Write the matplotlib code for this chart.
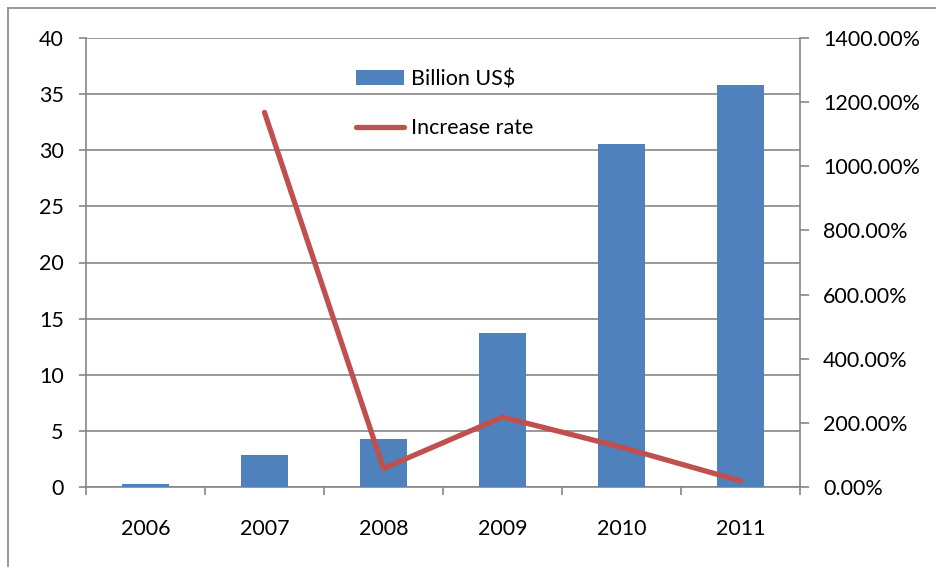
import matplotlib
matplotlib.use("Agg")
import matplotlib.pyplot as plt
from matplotlib.lines import Line2D
from matplotlib.patches import Patch
import numpy as np

years = ["2006", "2007", "2008", "2009", "2010", "2011"]
billion_usd = [0.27, 2.85, 4.28, 13.75, 30.6, 35.85]
rate_years = ["2007", "2008", "2009", "2010", "2011"]
increase_rate = [1168, 58, 218, 124, 19]

FS = 15.5
plt.rcParams['font.family'] = ['Lato', 'DejaVu Sans']
fig = plt.figure(figsize=(9.36, 5.67), dpi=100)
ax = fig.add_axes([86/936, 1-487/567, (800-86)/936, (487-38)/567])

x = np.arange(len(years))
ax.bar(x, billion_usd, width=0.4, color='#4F81BD', zorder=3)
ax.set_xlim(-0.5, len(years)-0.5)
ax.set_ylim(0, 40)
ax.set_yticks(range(0, 41, 5))
ax.grid(axis='y', color='#868686', linewidth=1.2, zorder=0)
ax.set_xticks(x)
ax.set_xticklabels(years)
ax.set_xticks(np.arange(-0.5, len(years), 1), minor=True)
ax.tick_params(axis='x', which='major', length=0, pad=23, labelsize=FS)
ax.tick_params(axis='x', which='minor', length=6, color='#868686', width=1.2)
ax.tick_params(axis='y', length=5, color='#868686', width=1.2, labelsize=FS, pad=11)
for s in ['top', 'right']:
    ax.spines[s].set_visible(False)
for s in ['left', 'bottom']:
    ax.spines[s].set_color('#868686')
    ax.spines[s].set_linewidth(1.2)

ax2 = ax.twinx()
rx = [years.index(y) for y in rate_years]
ax2.plot(rx, increase_rate, color='#C0504D', linewidth=3.8, solid_capstyle='round', zorder=4)
ax2.set_ylim(0, 1400)
ax2.set_yticks(range(0, 1401, 200))
ax2.set_yticklabels([f"{v:.2f}%" for v in range(0, 1401, 200)])
ax2.tick_params(axis='y', length=6.5, color='#868686', width=1.2, labelsize=FS, pad=10)
for s in ['top', 'left', 'bottom']:
    ax2.spines[s].set_visible(False)
ax2.spines['right'].set_color('#868686')
ax2.spines['right'].set_linewidth(1.2)

handles = [Patch(facecolor='#4F81BD', label='Billion US$'),
           Line2D([0], [0], color='#C0504D', linewidth=3.8, solid_capstyle='round', label='Increase rate')]
leg = ax2.legend(handles=handles, loc='upper left', bbox_to_anchor=(0.366, 0.95),
                 frameon=False, fontsize=FS, labelspacing=1.35, handlelength=2.25,
                 handletextpad=0.3, borderaxespad=0)

# outer frame
fig.add_artist(Line2D([8/936, 8/936], [0, 1-8/567], transform=fig.transFigure, color='#868686', linewidth=1.2))
fig.add_artist(Line2D([8/936, 1], [1-8/567, 1-8/567], transform=fig.transFigure, color='#868686', linewidth=1.2))

fig.savefig("out.png", dpi=100)
